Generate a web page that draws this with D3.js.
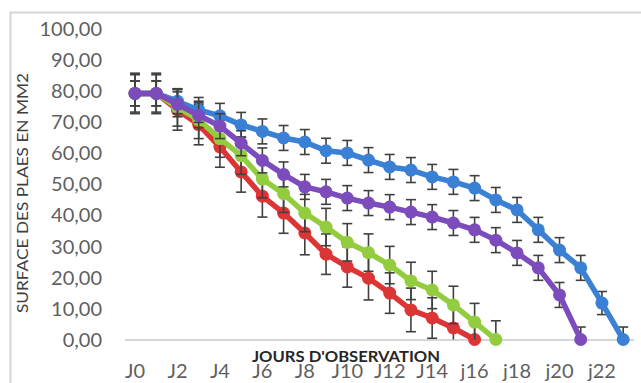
<!DOCTYPE html>
<html>
<head>
<meta charset="utf-8">
<script src="https://cdn.jsdelivr.net/npm/d3@7"></script>
<style>
  html, body { margin: 0; padding: 0; background: #fff; }
  svg { display: block; }
</style>
</head>
<body>
<svg id="chart" width="641" height="383"></svg>
<script>
// ---- data ----
const categories = ["J0","J1","J2","J3","J4","J5","J6","J7","J8","J9","J10","J11","J12","J13","J14","j15","j16","j17","j18","j19","j20","j21","j22","j23"];
const tickLabels = ["J0","J2","J4","J6","J8","J10","J12","J14","j16","j18","j20","j22"];
const yTicks = [0,10,20,30,40,50,60,70,80,90,100];

const blueValues   = [79,79,76.5,73.7,71.8,68.9,66.8,64.7,63.4,60.6,59.9,57.6,55.4,54.4,52.2,50.6,48.6,44.8,41.6,35.2,28.7,23.0,11.7,0];
const blueErr      = [4,4,4,4,4,4,4,4,4,4,4,4,4,4,4,4,4,4,4,4,4,4,3.7,4];
const purpleValues = [79,79,75.5,72,68.5,63,57.5,53,49,47.4,45.4,43.8,42.5,40.9,39.3,37.4,35.2,31.9,27.8,23.0,14.3,0];
const purpleErr    = [4,4,4,4,4,4,4,4,4,4,4,4,4,4,4,4,4,4,4,4,4,4];
const greenValues  = [79,79,74.5,70.5,64.5,59,51.5,46.8,40.6,36.1,31.2,27.9,23.9,18.8,15.9,11.1,5.6,0];
const greenErr     = [6,6,6,6,6,6,6,6,6,6,6,6,6,6,6,6,6,6];
const redValues    = [79,79,73.7,69,61.8,53.8,46,40.6,34.2,27.4,23.3,19.7,14.9,9.5,6.9,3.7,0];
const redErr       = [6.5,6.5,6.5,6.5,6.5,6.5,6.7,6.5,7,6.5,6.5,7,6.5,7,6.5,6.5,6.5];

const seriesList = [
  { values: redValues,    err: redErr,    color: "#dc3535" },
  { values: greenValues,  err: greenErr,  color: "#93cc3e" },
  { values: blueValues,   err: blueErr,   color: "#3a80d4" },
  { values: purpleValues, err: purpleErr, color: "#7d4cbc" }
];

// ---- layout ----
const svg = d3.select("#chart");
const x = d3.scaleBand().domain(categories).range([124.4, 633.8]).paddingInner(0).paddingOuter(0);
const cx = c => x(c) + x.bandwidth() / 2;
const y = d3.scaleLinear().domain([0, 100]).range([339.5, 28]);

// chart area border
svg.append("rect")
  .attr("x", 10.5).attr("y", 12.5).attr("width", 700).attr("height", 500)
  .attr("fill", "none").attr("stroke", "#d6d6d6").attr("stroke-width", 2);

// y axis labels (no line)
const yAxis = d3.axisLeft(y).tickValues(yTicks).tickSize(0).tickPadding(0)
  .tickFormat(d => d3.format(".2f")(d).replace(".", ","));
const gy = svg.append("g").attr("transform", "translate(102,0)").call(yAxis);
gy.select(".domain").remove();
gy.selectAll("text")
  .attr("fill", "#5f5f5f").style("font-family", "Lato, 'Open Sans', sans-serif")
  .style("font-size", "20px").attr("dy", "0.35em");

// x axis
const xAxis = d3.axisBottom(x).tickValues(categories.filter(c => tickLabels.includes(c)))
  .tickSize(0).tickPadding(0)
  .tickFormat(c => c);
const gx = svg.append("g").attr("transform", `translate(0,${y(0)})`).call(xAxis);
gx.select(".domain").attr("stroke", "#c8c8c8").attr("stroke-width", 1.6);
gx.selectAll("text")
  .attr("y", 31).attr("dy", "0.35em")
  .attr("fill", "#5f5f5f").style("font-family", "Lato, 'Open Sans', sans-serif")
  .style("font-size", "20px");

// series
const line = d3.line().x((d, i) => cx(categories[i])).y(d => y(d));
seriesList.forEach(s => {
  const g = svg.append("g");
  // error bars
  const eb = g.append("g").attr("stroke", "#404040").attr("stroke-width", 1.6);
  s.values.forEach((v, i) => {
    const px = cx(categories[i]);
    const top = y(v + s.err[i]);
    const lowV = v - s.err[i];
    const bot = y(Math.max(0, lowV));
    eb.append("line").attr("x1", px).attr("x2", px).attr("y1", top).attr("y2", bot);
    eb.append("line").attr("x1", px - 5).attr("x2", px + 5).attr("y1", top).attr("y2", top);
    if (lowV >= 0) eb.append("line").attr("x1", px - 5).attr("x2", px + 5).attr("y1", bot).attr("y2", bot);
  });
  g.append("path").datum(s.values).attr("d", line)
    .attr("fill", "none").attr("stroke", s.color).attr("stroke-width", 5.5)
    .attr("stroke-linejoin", "round");
  g.selectAll("circle").data(s.values).enter().append("circle")
    .attr("cx", (d, i) => cx(categories[i])).attr("cy", d => y(d))
    .attr("r", 6.5).attr("fill", s.color);
});

// axis titles
svg.append("text")
  .attr("x", 252).attr("y", 362)
  .attr("textLength", 188).attr("lengthAdjust", "spacingAndGlyphs")
  .attr("fill", "#262626").style("font-family", "Lato, 'Open Sans', sans-serif")
  .style("font-weight", "bold").style("font-size", "16px")
  .text("JOURS D'OBSERVATION");

svg.append("text")
  .attr("transform", "translate(28,313) rotate(-90)")
  .attr("x", 0).attr("y", 0)
  .attr("textLength", 240).attr("lengthAdjust", "spacingAndGlyphs")
  .attr("fill", "#404040").style("font-family", "Lato, 'Open Sans', sans-serif")
  .style("font-size", "15px")
  .text("SURFACE DES PLAES EN MM2");
</script>
</body>
</html>
